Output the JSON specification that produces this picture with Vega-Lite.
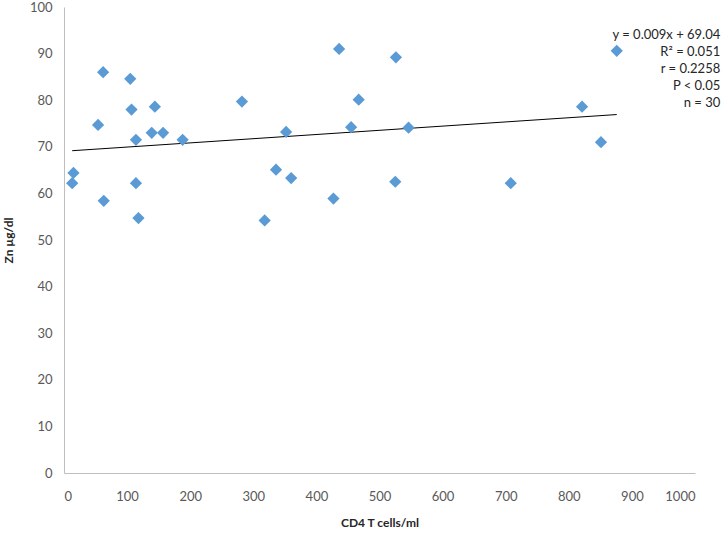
{
  "$schema": "https://vega.github.io/schema/vega-lite/v6.json",
  "width": 631,
  "height": 466,
  "autosize": {"type": "none"},
  "padding": {"left": 64, "top": 7, "right": 29, "bottom": 63},
  "background": "white",
  "config": {
    "view": {"stroke": null},
    "font": "Lato"
  },
  "datasets": {
    "pts": [
      {"cd4": 13, "zn": 62.2}, {"cd4": 15, "zn": 64.4}, {"cd4": 54, "zn": 74.7},
      {"cd4": 62, "zn": 86.0}, {"cd4": 63, "zn": 58.4}, {"cd4": 105, "zn": 84.6},
      {"cd4": 107, "zn": 78.0}, {"cd4": 114, "zn": 71.5}, {"cd4": 114, "zn": 62.2},
      {"cd4": 118, "zn": 54.7}, {"cd4": 139, "zn": 73.0}, {"cd4": 144, "zn": 78.6},
      {"cd4": 157, "zn": 73.0}, {"cd4": 188, "zn": 71.5}, {"cd4": 282, "zn": 79.7},
      {"cd4": 318, "zn": 54.2}, {"cd4": 336, "zn": 65.1}, {"cd4": 352, "zn": 73.2},
      {"cd4": 360, "zn": 63.3}, {"cd4": 427, "zn": 58.9}, {"cd4": 436, "zn": 91.0},
      {"cd4": 455, "zn": 74.2}, {"cd4": 467, "zn": 80.1}, {"cd4": 526, "zn": 89.2},
      {"cd4": 546, "zn": 74.1}, {"cd4": 525, "zn": 62.5}, {"cd4": 708, "zn": 62.2},
      {"cd4": 821, "zn": 78.6}, {"cd4": 851, "zn": 71.0}, {"cd4": 876, "zn": 90.6}
    ],
    "trend": [
      {"cd4": 13, "zn": 69.16},
      {"cd4": 876, "zn": 76.92}
    ],
    "notes": [
      {"cd4": 1040, "zn": 94.0, "t": "y = 0.009x + 69.04"},
      {"cd4": 1040, "zn": 90.3, "t": "R² = 0.051"},
      {"cd4": 1040, "zn": 86.7, "t": "r = 0.2258"},
      {"cd4": 1040, "zn": 83.0, "t": "P < 0.05"},
      {"cd4": 1040, "zn": 79.4, "t": "n = 30"}
    ]
  },
  "encoding": {
    "x": {
      "field": "cd4", "type": "quantitative",
      "scale": {"domain": [0, 1000], "nice": false, "zero": false},
      "axis": {
        "title": "CD4 T cells/ml", "values": [0,100,200,300,400,500,600,700,800,900,1000], "format": "d",
        "grid": false, "ticks": false, "domainColor": "#bfbfbf", "domainWidth": 1,
        "labelColor": "#595959", "labelFontSize": 13, "labelPadding": 17, "labelFont": "Lato",
        "titleFontSize": 12, "titleFontWeight": "bold", "titleColor": "#262626", "titlePadding": 14, "titleFont": "Lato"
      }
    },
    "y": {
      "field": "zn", "type": "quantitative",
      "scale": {"domain": [0, 100], "nice": false, "zero": false},
      "axis": {
        "title": "Zn µg/dl", "values": [0,10,20,30,40,50,60,70,80,90,100], "format": "d",
        "grid": false, "ticks": false, "domainColor": "#bfbfbf", "domainWidth": 1,
        "labelColor": "#595959", "labelFontSize": 13, "labelPadding": 12, "labelFont": "Lato",
        "titleFontSize": 12, "titleFontWeight": "bold", "titleColor": "#262626", "titlePadding": 14, "titleFont": "Lato"
      }
    }
  },
  "layer": [
    {
      "data": {"name": "trend"},
      "mark": {"type": "line", "color": "#000000", "strokeWidth": 1}
    },
    {
      "data": {"name": "pts"},
      "mark": {"type": "point", "shape": "diamond", "filled": true, "size": 150, "color": "#5b9bd5", "opacity": 1}
    },
    {
      "data": {"name": "notes"},
      "mark": {"type": "text", "align": "right", "baseline": "middle", "fontSize": 13, "color": "#262626", "clip": false},
      "encoding": {"text": {"field": "t"}}
    }
  ]
}
